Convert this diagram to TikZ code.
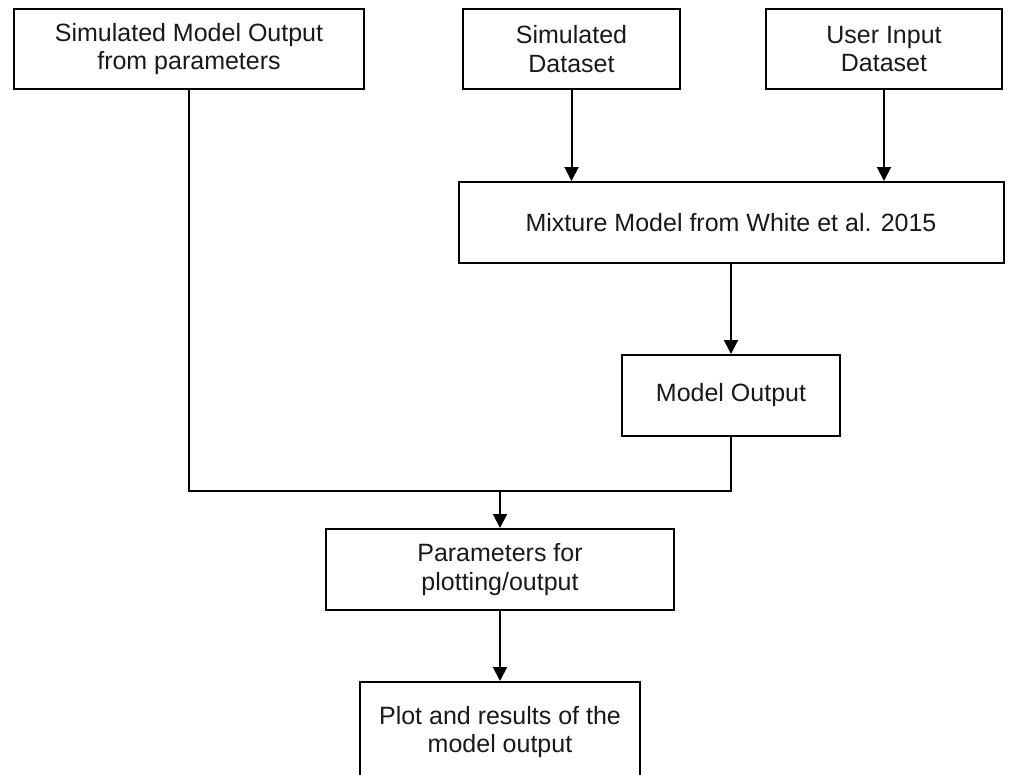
\documentclass[tikz,border=0pt]{standalone}
\usepackage{fontspec}
\setmainfont{Liberation Sans}
\usetikzlibrary{arrows.meta}
\begin{document}
\begin{tikzpicture}[x=1pt,y=-1pt,
  box/.style={draw=black, line width=2pt, fill=white, align=center,
    font=\fontsize{25}{28.5}\selectfont, inner sep=0pt, text=black!90},
  arr/.style={line width=2pt, -{Triangle[length=14pt,width=14pt]}},
  con/.style={line width=2pt}]
\useasboundingbox (0,0) rectangle (1009,774);
\node[box, minimum width=350pt, minimum height=80pt] (smo) at (189,49) {Simulated Model Output\\from parameters};
\node[box, minimum width=217pt, minimum height=80pt] (sd) at (571.5,49) {Simulated\\Dataset};
\node[box, minimum width=236pt, minimum height=80pt] (ui) at (884,49) {User Input\\Dataset};
\node[box, minimum width=545pt, minimum height=81pt] (mix) at (731,222.5) {Mixture Model from White et al. 2015};
\node[box, minimum width=218pt, minimum height=81pt] (mo) at (731,395.5) {Model Output};
\node[box, minimum width=348pt, minimum height=81pt] (pp) at (500,569.5) {Parameters for\\plotting/output};
\node[box, minimum width=280pt, minimum height=100pt] (plot) at (500,732) {Plot and results of the\\model output};
\coordinate (j) at (500,491);
\draw[arr] (sd.south) -- (sd.south |- mix.north);
\draw[arr] (ui.south) -- (ui.south |- mix.north);
\draw[arr] (mix.south) -- (mo.north);
\draw[con] (mo.south) |- (j) -| (smo.south);
\draw[arr] (j) -- (pp.north);
\draw[arr] (pp.south) -- (plot.north);
\end{tikzpicture}
\end{document}
